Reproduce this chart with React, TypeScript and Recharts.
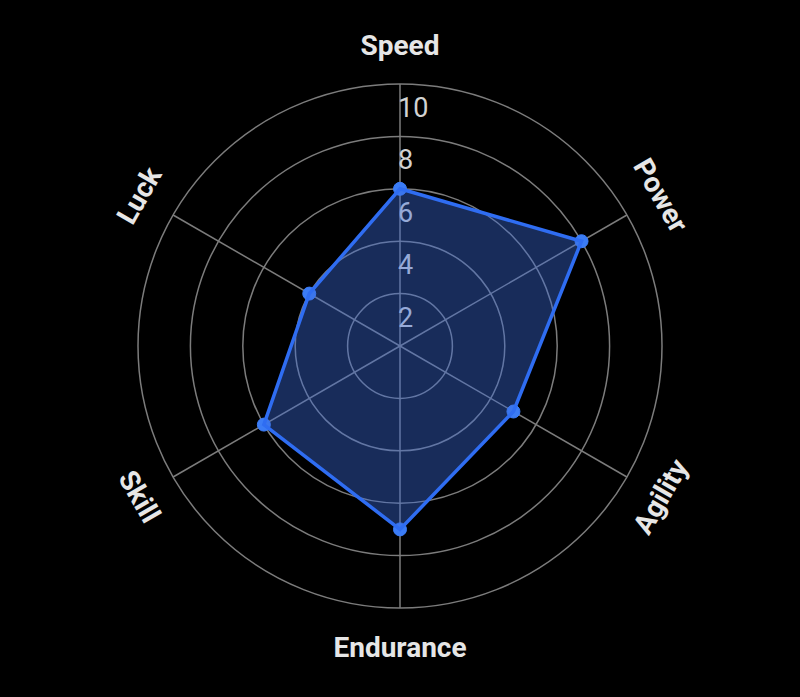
import React from 'react';
import { RadarChart, Radar, PolarGrid, PolarAngleAxis, PolarRadiusAxis } from 'recharts';

const attributes = ['Speed', 'Power', 'Agility', 'Endurance', 'Skill', 'Luck'];
const scores = [6, 8, 5, 7, 6, 4];
const radiusDomain = [0, 10];

const data = attributes.map((attribute, i) => ({ attribute, score: scores[i] }));

const CX = 400;
const CY = 346;
const OUTER = 262;
const LABEL_R = 301;

// axis names sit outside the rings, turned along the circle
const AngleTick = (props: any) => {
  const { payload } = props;
  const angle = payload.coordinate;
  const rad = (-angle * Math.PI) / 180;
  const x = CX + LABEL_R * Math.cos(rad);
  const y = CY + LABEL_R * Math.sin(rad);
  let rot = (((90 - angle) % 180) + 180) % 180;
  if (rot > 90) rot -= 180;
  return (
    <text
      x={x}
      y={y}
      textAnchor="middle"
      dominantBaseline="central"
      transform={`rotate(${rot}, ${x}, ${y})`}
      fill="#e6e6e6"
      fontSize={28}
      fontWeight={700}
      fontFamily="Roboto"
    >
      {payload.value}
    </text>
  );
};

const RadiusTick = (props: any) => {
  const { x, y, payload } = props;
  if (payload.value === 0) return <g />;
  return (
    <text x={x - 2} y={y + 33} textAnchor="start" fill="#d2d2d2" fontSize={27} fontFamily="Roboto">
      {payload.value}
    </text>
  );
};

const App: React.FC = () => {
  return (
    <div style={{ position: 'fixed', left: 0, top: 0, width: 800, height: 697, background: '#000' }}>
      <RadarChart width={800} height={697} data={data} cx={CX} cy={CY} outerRadius={OUTER}>
        <PolarGrid gridType="circle" stroke="#7c7c7c" strokeWidth={1.5} />
        <PolarRadiusAxis
          angle={90}
          domain={radiusDomain}
          tickCount={6}
          axisLine={false}
          tickLine={false}
          tick={RadiusTick}
        />
        <PolarAngleAxis dataKey="attribute" tick={AngleTick} tickLine={false} axisLine={false} />
        <Radar
          dataKey="score"
          stroke="#2f6df2"
          strokeWidth={3.5}
          fill="#3b6fe0"
          fillOpacity={0.4}
          dot={{ r: 6.5, fill: '#3b7cf6', stroke: '#3b7cf6', strokeWidth: 1, fillOpacity: 1 }}
          zIndex={600}
          isAnimationActive={false}
        />
      </RadarChart>
    </div>
  );
};

export default App;
